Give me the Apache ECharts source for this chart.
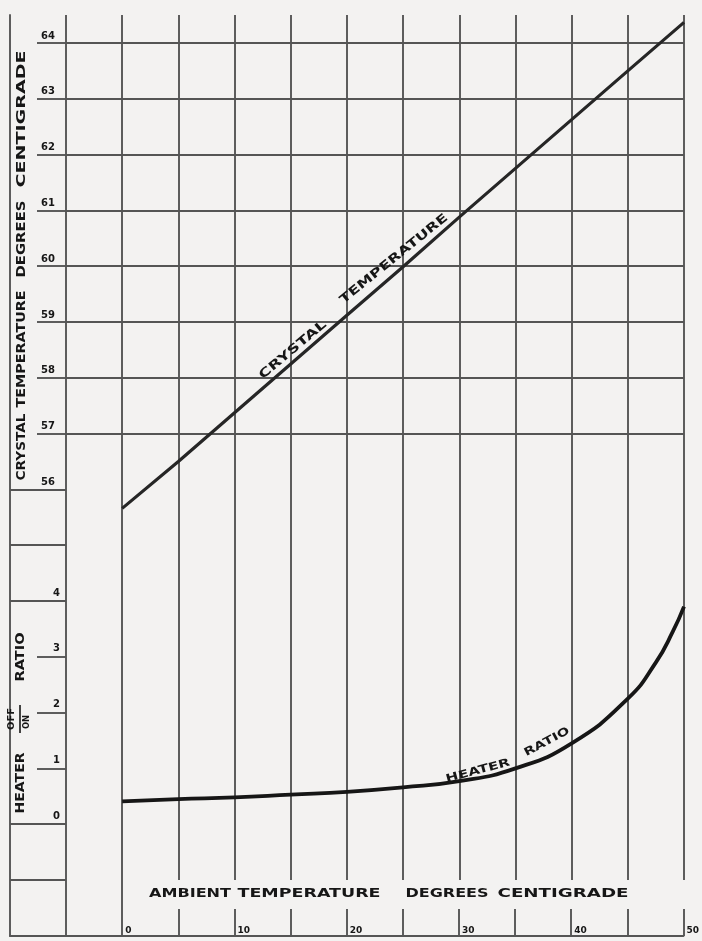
<!DOCTYPE html>
<html>
<head>
<meta charset="utf-8">
<script src="https://cdn.jsdelivr.net/npm/echarts@6/dist/echarts.min.js"></script>
<style>
  html, body { margin: 0; padding: 0; background: #f3f2f1; }
  #chart { width: 702px; height: 941px; }
</style>
</head>
<body>
<div id="chart"></div>
<script>
// Crystal temperature (°C) against ambient temperature (°C)
const crystalAmbient = [0, 5, 20, 25, 30, 45, 50];
const crystalTemp    = [55.66, 56.5, 59.12, 59.99, 60.88, 63.5, 64.37];

// Heater off/on ratio against ambient temperature (°C)
const heaterAmbient = [0, 5, 10, 15, 20, 25, 30, 35, 40, 45, 47.5, 49, 50];
const heaterRatio   = [0.41, 0.45, 0.48, 0.53, 0.58, 0.66, 0.77, 1.0, 1.45, 2.25, 2.9, 3.45, 3.9];

// Tick labels
const crystalTicks = [56, 57, 58, 59, 60, 61, 62, 63, 64];
const heaterTicks  = [0, 1, 2, 3, 4];
const ambientTicks = [0, 10, 20, 30, 40, 50];

const ink = '#161616';
const rule = '#555555';
const ruleW = 1.9;
const labelFont = '"Liberation Sans Narrow", "DejaVu Sans", sans-serif';
const titleFont = '"DejaVu Sans", sans-serif';

const chart = echarts.init(document.getElementById('chart'), null, { renderer: 'canvas' });

// Hand-lettered words: each word is stretched to its lettered length
const measure = document.createElement('canvas').getContext('2d');
function word(text, cx, cy, width, size, angleDeg) {
  measure.font = `bold ${size}px ${titleFont}`;
  const w = measure.measureText(text).width;
  return {
    type: 'text', x: cx, y: cy, z: 20,
    rotation: angleDeg * Math.PI / 180,
    scaleX: width / w,
    style: {
      text, fill: ink, fontSize: size, fontWeight: 'bold', fontFamily: titleFont,
      align: 'center', verticalAlign: 'middle'
    }
  };
}

const pair = (xs, ys) => xs.map((x, i) => [x, ys[i]]);
const range = (a, b, s) => { const r = []; for (let v = a; v <= b + 1e-9; v += s) r.push(v); return r; };

const option = {
  backgroundColor: '#f3f2f1',
  animation: false,
  grid: [
    // main ruled sheet: ambient -5..50, sixteen rows
    { left: 66, top: 43, width: 618, height: 837 },
    // left margin strip carrying the outer border
    { left: 10, top: 15, width: 56, height: 921 },
    // bottom strip with the ambient scale
    { left: 10, top: 880, width: 674, height: 56 }
  ],
  xAxis: [
    {
      gridIndex: 0, type: 'value', min: -5, max: 50, interval: 5, position: 'top',
      axisLine: { show: false, onZero: false },
      axisTick: { show: true, length: 28, lineStyle: { color: rule, width: ruleW } },
      axisLabel: { show: false },
      splitLine: { show: true, lineStyle: { color: rule, width: ruleW } }
    },
    { gridIndex: 1, type: 'value', min: 0, max: 1, show: false, axisLine: { onZero: false } },
    {
      gridIndex: 2, type: 'value', min: -10, max: 50, interval: 5, position: 'bottom',
      axisLine: { show: true, onZero: false, lineStyle: { color: rule, width: ruleW } },
      axisTick: {
        show: true, inside: true, length: 27, customValues: range(5, 50, 5),
        lineStyle: { color: rule, width: ruleW }
      },
      axisLabel: {
        show: true, inside: true, customValues: ambientTicks, margin: 1,
        align: 'left', verticalAlign: 'bottom', padding: [0, 0, 0, 3],
        fontFamily: labelFont, fontWeight: 'bold', fontSize: 9, color: ink
      },
      splitLine: { show: false }
    },
    {
      gridIndex: 2, type: 'value', min: -10, max: 50, position: 'bottom',
      axisLine: { show: false, onZero: false },
      axisTick: {
        show: true, inside: true, length: 56, customValues: [-5, 0],
        lineStyle: { color: rule, width: ruleW }
      },
      axisLabel: { show: false },
      splitLine: { show: false }
    }
  ],
  yAxis: [
    {
      // crystal temperature scale, one row per degree
      gridIndex: 0, type: 'value', min: 49, max: 64, interval: 1, position: 'left',
      axisLine: { show: false, onZero: false },
      axisTick: {
        show: true, length: 29, customValues: range(57, 64, 1),
        lineStyle: { color: rule, width: ruleW }
      },
      axisLabel: {
        show: true, customValues: crystalTicks, margin: 11,
        verticalAlign: 'bottom', padding: [0, 0, 2, 0],
        fontFamily: labelFont, fontWeight: 'bold', fontSize: 10, color: ink
      },
      splitLine: { show: true, lineStyle: { color: rule, width: ruleW } }
    },
    {
      // rows that run right across to the outer border
      gridIndex: 0, type: 'value', min: 49, max: 64, position: 'left',
      axisLine: { show: false, onZero: false },
      axisTick: {
        show: true, length: 56, customValues: [49, 50, 54, 55, 56],
        lineStyle: { color: rule, width: ruleW }
      },
      axisLabel: { show: false },
      splitLine: { show: false }
    },
    {
      // heater ratio scale on the same rows
      gridIndex: 0, type: 'value', min: -1, max: 14, position: 'left',
      axisLine: { show: false, onZero: false },
      axisTick: {
        show: true, length: 29, customValues: [1, 2, 3],
        lineStyle: { color: rule, width: ruleW }
      },
      axisLabel: {
        show: true, customValues: heaterTicks, margin: 6,
        verticalAlign: 'bottom', padding: [0, 0, 3, 0],
        fontFamily: labelFont, fontWeight: 'bold', fontSize: 10, color: ink
      },
      splitLine: { show: false }
    },
    {
      gridIndex: 1, type: 'value', min: 0, max: 1, position: 'left',
      axisLine: { show: true, onZero: false, lineStyle: { color: rule, width: ruleW } },
      axisTick: { show: false }, axisLabel: { show: false }, splitLine: { show: false }
    },
    { gridIndex: 2, type: 'value', min: 0, max: 1, show: false, axisLine: { onZero: false } }
  ],
  series: [
    {
      name: 'Crystal temperature', type: 'line', xAxisIndex: 0, yAxisIndex: 0,
      data: pair(crystalAmbient, crystalTemp),
      showSymbol: false, clip: false, z: 5,
      lineStyle: { color: '#262626', width: 3.2 }
    },
    {
      name: 'Heater ratio', type: 'line', xAxisIndex: 0, yAxisIndex: 2,
      data: pair(heaterAmbient, heaterRatio),
      showSymbol: false, smooth: 0.5, clip: false, z: 5,
      lineStyle: { color: '#161616', width: 3.8 }
    }
  ],
  graphic: [
    // vertical title of the crystal scale
    word('CRYSTAL', 22, 447, 67, 12, 90),
    word('TEMPERATURE', 22, 349, 117, 12, 90),
    word('DEGREES', 22, 239, 77, 12, 90),
    word('CENTIGRADE', 22, 119, 137, 12, 90),
    // vertical title of the heater scale
    word('HEATER', 21, 783, 61, 12, 90),
    word('RATIO', 21, 657, 49, 12, 90),
    word('OFF', 12, 719, 22, 8, 90),
    word('ON', 27, 722, 14, 8, 90),
    {
      type: 'line', z: 20,
      shape: { x1: 20, y1: 705, x2: 20, y2: 733 },
      style: { stroke: ink, lineWidth: 1.6 }
    },
    // ambient title in the bottom strip
    word('AMBIENT', 190, 894, 82, 12, 0),
    word('TEMPERATURE', 309, 894, 143, 12, 0),
    word('DEGREES', 447, 894, 83, 12, 0),
    word('CENTIGRADE', 563, 894, 131, 12, 0),
    // curve names lettered along the curves
    word('CRYSTAL', 293, 350, 84, 12, 40),
    word('TEMPERATURE', 394, 259, 135, 12, 39),
    word('HEATER', 478, 771, 66, 11, 15),
    word('RATIO', 547, 742, 50, 11, 28)
  ]
};

chart.setOption(option);
</script>
</body>
</html>
